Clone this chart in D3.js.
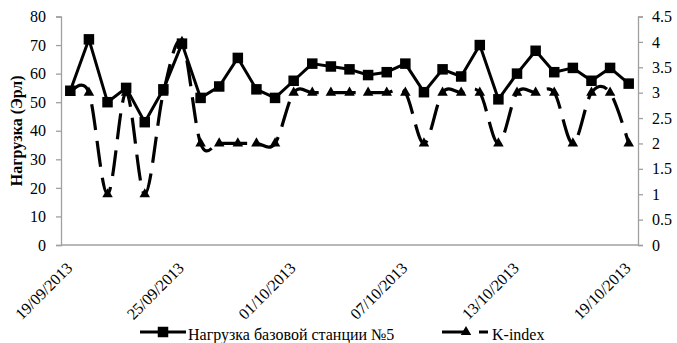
<!DOCTYPE html>
<html>
<head>
<meta charset="utf-8">
<script src="https://cdn.jsdelivr.net/npm/d3@7"></script>
<style>
  html, body { margin: 0; padding: 0; background: #fff; }
  svg { display: block; }
</style>
</head>
<body>
<div id="chart"></div>
<script>
// Daily categories, 19/09/2013 – 19/10/2013
const dates = [
  "19/09/2013","20/09/2013","21/09/2013","22/09/2013","23/09/2013","24/09/2013",
  "25/09/2013","26/09/2013","27/09/2013","28/09/2013","29/09/2013","30/09/2013",
  "01/10/2013","02/10/2013","03/10/2013","04/10/2013","05/10/2013","06/10/2013",
  "07/10/2013","08/10/2013","09/10/2013","10/10/2013","11/10/2013","12/10/2013",
  "13/10/2013","14/10/2013","15/10/2013","16/10/2013","17/10/2013","18/10/2013",
  "19/10/2013"
];
// Base station #5 load, Erlang (left axis)
const load = [
  54, 72, 50, 55, 43, 54.5, 70.5, 51.5, 55.5, 65.5, 54.5, 51.5,
  57.5, 63.5, 62.5, 61.5, 59.5, 60.5, 63.5, 53.5, 61.5, 59, 70, 51,
  60, 68, 60.5, 62, 57.5, 62, 56.5
];
// Geomagnetic K-index (right axis)
const kIndex = [
  3, 3, 1, 3, 1, 3, 4, 2, 2, 2, 2, 2,
  3, 3, 3, 3, 3, 3, 3, 2, 3, 3, 3, 2,
  3, 3, 3, 2, 3, 3, 2
];
const dateTicks = ["19/09/2013","25/09/2013","01/10/2013","07/10/2013","13/10/2013","19/10/2013"];
const leftTicks = [0, 10, 20, 30, 40, 50, 60, 70, 80];
const rightTicks = [0, 0.5, 1, 1.5, 2, 2.5, 3, 3.5, 4, 4.5];
const seriesNames = ["Нагрузка базовой станции №5", "K-index"];
const yTitle = "Нагрузка (Эрл)";

const FONT = "'Liberation Serif'";
const W = 677, H = 343;
const plot = { left: 61, right: 638, top: 16.5, bottom: 245 };
const axisColor = "#a0a0a0";

const svg = d3.select("#chart").append("svg")
  .attr("width", W).attr("height", H);

const x = d3.scalePoint().domain(dates).range([plot.left, plot.right]).padding(0.5);
const yL = d3.scaleLinear().domain([0, 80]).range([plot.bottom, plot.top]);
const yR = d3.scaleLinear().domain([0, 4.5]).range([plot.bottom, plot.top]);

function styleText(sel) {
  return sel.style("font-family", FONT).style("font-size", "16px").attr("fill", "#000");
}

// Left axis
const gL = svg.append("g").attr("transform", `translate(${plot.left},0)`)
  .call(d3.axisLeft(yL).tickValues(leftTicks).tickSize(5).tickPadding(10).tickFormat(d3.format("d")));
// Right axis
const gR = svg.append("g").attr("transform", `translate(${plot.right},0)`)
  .call(d3.axisRight(yR).tickValues(rightTicks).tickSize(5).tickPadding(9).tickFormat(d => String(d)));
[gL, gR].forEach(g => {
  g.select(".domain").attr("stroke", axisColor).attr("stroke-width", 1.3);
  g.selectAll(".tick line").attr("stroke", axisColor).attr("stroke-width", 1.3);
  styleText(g.selectAll(".tick text"));
});

// Category axis line
svg.append("line")
  .attr("x1", plot.left).attr("x2", plot.right)
  .attr("y1", plot.bottom).attr("y2", plot.bottom)
  .attr("stroke", axisColor).attr("stroke-width", 1.3);

// Rotated date labels
const xl = svg.append("g").selectAll("g").data(dateTicks).join("g")
  .attr("transform", d => `translate(${x(d) + 3},${plot.bottom + 24})`);
styleText(xl.append("text")
  .attr("text-anchor", "end")
  .attr("transform", "rotate(-45)")
  .text(d => d));

// Y axis title
styleText(svg.append("text")
  .attr("transform", `translate(22,${(plot.top + plot.bottom) / 2}) rotate(-90)`)
  .attr("text-anchor", "middle")
  .style("font-weight", "bold")
  .text(yTitle));

// K-index series: smoothed dashed line with triangle markers
const kLine = d3.line()
  .x((d, i) => x(dates[i]))
  .y(d => yR(d))
  .curve(d3.curveCardinal.tension(0));
svg.append("path").datum(kIndex)
  .attr("d", kLine)
  .attr("fill", "none").attr("stroke", "#000")
  .attr("stroke-width", 3.2).attr("stroke-dasharray", "26,11")
  .attr("stroke-linejoin", "round");

// Load series: solid line with square markers
const loadLine = d3.line()
  .x((d, i) => x(dates[i]))
  .y(d => yL(d));
svg.append("path").datum(load)
  .attr("d", loadLine)
  .attr("fill", "none").attr("stroke", "#000")
  .attr("stroke-width", 3).attr("stroke-linejoin", "round");

const sq = 10.5;
svg.append("g").selectAll("rect").data(load).join("rect")
  .attr("x", (d, i) => x(dates[i]) - sq / 2)
  .attr("y", d => yL(d) - sq / 2)
  .attr("width", sq).attr("height", sq)
  .attr("fill", "#000");

const tri = d3.symbol().type(d3.symbolTriangle).size(48);
svg.append("g").selectAll("path").data(kIndex).join("path")
  .attr("d", tri)
  .attr("transform", (d, i) => `translate(${x(dates[i])},${yR(d)})`)
  .attr("fill", "#000");

// Legend
const legY = 332;
const leg = svg.append("g");
leg.append("line").attr("x1", 140).attr("x2", 186).attr("y1", legY).attr("y2", legY)
  .attr("stroke", "#000").attr("stroke-width", 3);
leg.append("rect").attr("x", 163 - sq / 2).attr("y", legY - sq / 2)
  .attr("width", sq).attr("height", sq).attr("fill", "#000");
styleText(leg.append("text").attr("x", 188).attr("y", legY + 8).text(seriesNames[0]));

leg.append("line").attr("x1", 442).attr("x2", 488).attr("y1", legY).attr("y2", legY)
  .attr("stroke", "#000").attr("stroke-width", 3.2).attr("stroke-dasharray", "26,11");
leg.append("path").attr("d", tri)
  .attr("transform", `translate(466,${legY})`).attr("fill", "#000");
styleText(leg.append("text").attr("x", 492).attr("y", legY + 8).text(seriesNames[1]));
</script>
</body>
</html>
